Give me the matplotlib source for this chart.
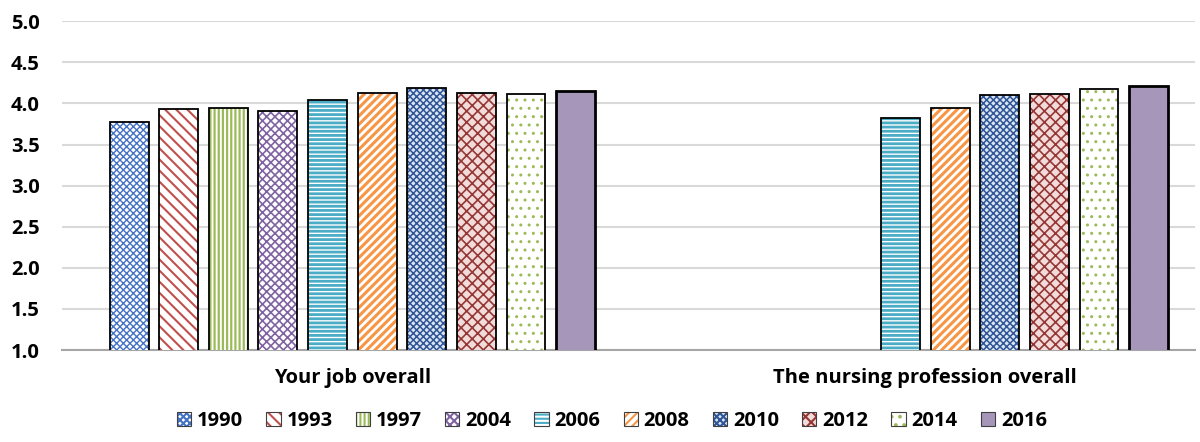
import matplotlib.pyplot as plt
import matplotlib.patches as mpatches
from matplotlib.legend_handler import HandlerTuple
import numpy as np

# =========================
# DATA
# =========================
categories = ["Your job overall", "The nursing profession overall"]
years = ["1990", "1993", "1997", "2004", "2006", "2008", "2010", "2012", "2014", "2016"]
job_overall = [3.77, 3.93, 3.95, 3.91, 4.04, 4.13, 4.19, 4.13, 4.11, 4.15]
nursing_overall = [np.nan, np.nan, np.nan, np.nan, 3.82, 3.95, 4.10, 4.12, 4.18, 4.21]

# (face colour, hatch colour, hatch pattern, hatch linewidth) per year
styles = [
    ("white", "#4472C4", "xxxxx", 1.0),
    ("white", "#C0504D", "\\\\\\", 1.5),
    ("white", "#9BBB59", "||||", 1.6),
    ("white", "#8064A2", "xxxx", 1.2),
    ("white", "#4BACC6", "----", 2.0),
    ("white", "#F79646", "////", 2.2),
    ("#DCE6F2", "#2F5597", "xxxxx", 1.1),
    ("#F2DCDB", "#953735", "xxx", 1.2),
    ("white", "#9BBB59", "..", 1.0),
    ("#A696BA", "#A696BA", "", 1.0),
]

FS = 14.5
plt.rcParams["font.family"] = ["Open Sans", "DejaVu Sans"]
plt.rcParams["font.weight"] = "bold"
plt.rcParams["hatch.linewidth"] = 1.5

fig = plt.figure(figsize=(12, 4.42), dpi=100)
ax = fig.add_axes([0.052, 0.208, 0.944, 0.744])

x = np.arange(len(categories))
slot = 0.0866
width = 0.068
values = np.array([job_overall, nursing_overall])


def set_hlw(patch, lw):
    # per-patch hatch width when the matplotlib version supports it
    if hasattr(patch, "set_hatch_linewidth"):
        patch.set_hatch_linewidth(lw)


handles = []
for i, year in enumerate(years):
    face, hcol, hatch, hlw = styles[i]
    pos = x + (i - 4.5) * slot
    bars = ax.bar(pos, values[:, i], width, color=face, edgecolor=hcol,
                  hatch=hatch, linewidth=0, zorder=3)
    for b in bars:
        set_hlw(b, hlw)
    lw = 2.0 if year == "2016" else 1.3
    ax.bar(pos, values[:, i], width, facecolor="none", edgecolor="black",
           linewidth=lw, zorder=4)
    h1 = mpatches.Patch(facecolor=face, edgecolor=hcol, hatch=hatch, linewidth=0)
    set_hlw(h1, hlw)
    h2 = mpatches.Patch(facecolor="none", edgecolor="#404040", linewidth=0.8)
    handles.append((h1, h2))

ax.set_ylim(1.0, 5.0)
ax.set_xlim(-0.506, 1.471)
ax.set_yticks(np.arange(1.0, 5.01, 0.5))
ax.set_yticklabels([f"{v:.1f}" for v in np.arange(1.0, 5.01, 0.5)],
                   fontsize=FS, fontweight="bold")
ax.set_xticks(x)
ax.set_xticklabels(categories, fontsize=FS, fontweight="bold")
ax.tick_params(axis="both", length=0)
ax.tick_params(axis="x", pad=13)
ax.tick_params(axis="y", pad=37)
for lab in ax.get_yticklabels():
    lab.set_horizontalalignment("left")

ax.grid(axis="y", color="#D9D9D9", linewidth=1.5, zorder=0)
for s in ["top", "right", "left"]:
    ax.spines[s].set_visible(False)
ax.spines["bottom"].set_color("#A6A6A6")
ax.spines["bottom"].set_linewidth(1.5)

fig.legend(handles, years, handler_map={tuple: HandlerTuple(ndivide=1)},
           loc="center", bbox_to_anchor=(0.51, 0.047), ncol=10, frameon=False,
           prop={"size": FS, "weight": "bold"}, handlelength=0.7,
           handleheight=0.7, handletextpad=0.3, columnspacing=1.15)

plt.savefig("out.png", dpi=100)
plt.close()
